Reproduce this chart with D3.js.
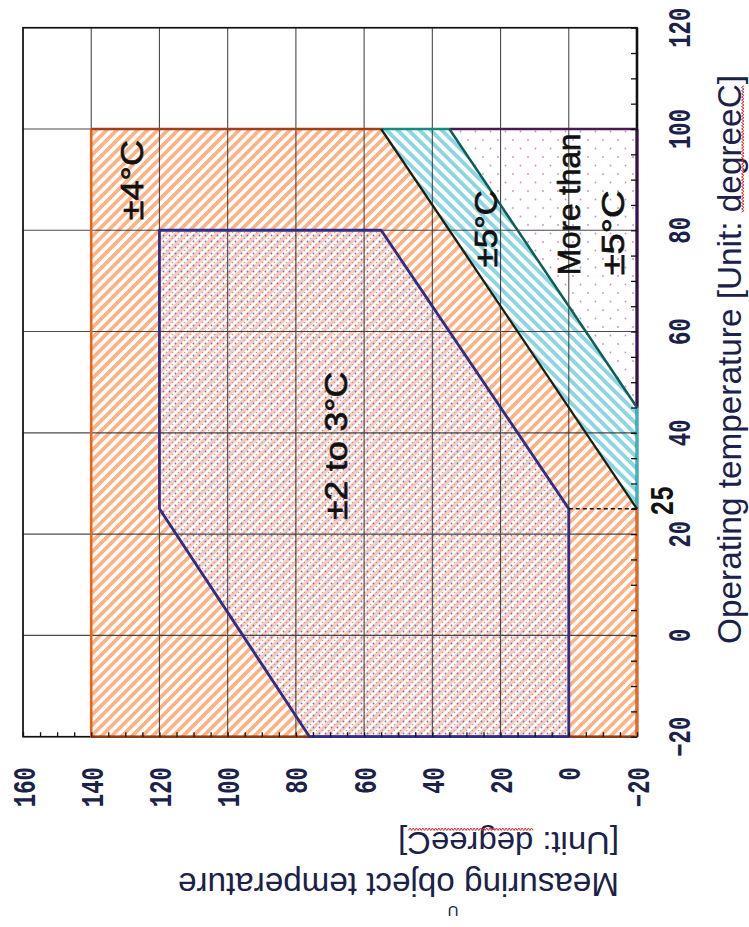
<!DOCTYPE html>
<html><head><meta charset="utf-8">
<script src="https://cdn.jsdelivr.net/npm/d3@7"></script>
<style>body{margin:0;background:#fff;} svg{display:block;}</style>
</head><body>
<svg id="c" width="749" height="927"></svg>
<script>
// ---- data (operating temperature = op, measuring object temperature = m) ----
const opTicks = [-20, 0, 20, 40, 60, 80, 100, 120];
const opExtraTick = [25];
const mTicks = [160, 140, 120, 100, 80, 60, 40, 20, 0, -20];
// zone vertices as [op, m]
const zone4 = [[-20, -20], [-20, 140], [100, 140], [100, -20]];          // ±4°C
const zone23 = [[-20, 0], [-20, 76], [25, 120], [80, 120], [80, 55], [25, 0]]; // ±2 to 3°C
const zone5 = [[25, -20], [100, 55], [100, 35], [45, -20]];              // ±5°C
const zoneMore = [[45, -20], [100, 35], [100, -20]];                     // More than ±5°C
const zoneLabelText = ["±4°C", "±2 to 3°C", "±5°C", "More than", "±5°C"];
const zoneLabelOp = [82, 22.8, 72.7, 71.1, 71.1];
const zoneLabelM = [124.8, 65, 21, -3.3, -16.2];
const opTitle = "Operating temperature [Unit: degreeC]";
const mTitle = "Measuring object temperature";
const mUnit = "[Unit: degreeC]";

const svg = d3.select("#c");
const xM = d3.scaleLinear().domain([160, -20]).range([23, 637]);
const yOp = d3.scaleLinear().domain([-20, 120]).range([736.7, 27.7]);
const line = d3.line().x(d => xM(d[1])).y(d => yOp(d[0]));

svg.append("rect").attr("width", 749).attr("height", 927).attr("fill", "#fff");

// ---- patterns ----
const defs = svg.append("defs");
function stripes(id, size, w, color, angle) {
  const p = defs.append("pattern").attr("id", id).attr("patternUnits", "userSpaceOnUse")
    .attr("width", size).attr("height", size).attr("patternTransform", `rotate(${angle})`);
  p.append("rect").attr("width", size).attr("height", size).attr("fill", "#fff");
  p.append("rect").attr("width", w).attr("height", size).attr("fill", color);
}
stripes("h4", 7.2, 3.7, "#fbb284", 45);
stripes("h23", 7.2, 3.7, "#f8cdb8", 45);
stripes("h5", 7.8, 3.9, "#8cd5e2", -45);
{
  const p = defs.append("pattern").attr("id", "d23").attr("patternUnits", "userSpaceOnUse")
    .attr("width", 6).attr("height", 6);
  p.append("circle").attr("cx", 1.5).attr("cy", 1.5).attr("r", 0.9).attr("fill", "#6c6cd2");
  p.append("circle").attr("cx", 4.5).attr("cy", 4.5).attr("r", 0.8).attr("fill", "#d98a8a");
}
{
  const p = defs.append("pattern").attr("id", "dm").attr("patternUnits", "userSpaceOnUse")
    .attr("width", 15).attr("height", 17);
  p.append("rect").attr("width", 15).attr("height", 17).attr("fill", "#fff");
  p.append("circle").attr("cx", 3).attr("cy", 4).attr("r", 0.9).attr("fill", "#c98ccd");
  p.append("circle").attr("cx", 10.5).attr("cy", 12.5).attr("r", 0.9).attr("fill", "#c98ccd");
}

// ---- zone fills ----
const poly = pts => line(pts) + "Z";
svg.append("path").attr("d", poly(zone4)).attr("fill", "url(#h4)");
svg.append("path").attr("d", poly(zone23)).attr("fill", "url(#h23)");
svg.append("path").attr("d", poly(zone23)).attr("fill", "url(#d23)");
svg.append("path").attr("d", poly(zone5)).attr("fill", "url(#h5)");
svg.append("path").attr("d", poly(zoneMore)).attr("fill", "url(#dm)");

// ---- grid ----
const grid = svg.append("g").attr("stroke", "#2c2c2c").attr("stroke-width", 1.1).attr("opacity", 0.85);
grid.selectAll("line.v").data(mTicks).join("line").attr("class", "v")
  .attr("x1", d => xM(d)).attr("x2", d => xM(d)).attr("y1", yOp(120)).attr("y2", yOp(-20));
grid.selectAll("line.h").data(opTicks).join("line").attr("class", "h")
  .attr("y1", d => yOp(d)).attr("y2", d => yOp(d)).attr("x1", xM(160)).attr("x2", xM(-20));

// ---- frame ----
svg.append("rect").attr("x", xM(160)).attr("y", yOp(120))
  .attr("width", xM(-20) - xM(160)).attr("height", yOp(-20) - yOp(120))
  .attr("fill", "none").attr("stroke", "#111").attr("stroke-width", 1.6);
svg.append("line").attr("x1", xM(-20)).attr("x2", xM(-20)).attr("y1", yOp(120)).attr("y2", yOp(-20))
  .attr("stroke", "#111").attr("stroke-width", 2.6);

// ---- zone borders ----
function seg(a, b, color, w, dash) {
  svg.append("path").attr("d", line([a, b])).attr("fill", "none")
    .attr("stroke", color).attr("stroke-width", w).attr("stroke-dasharray", dash || null);
}
seg(zone4[0], zone4[1], "#8f3a12", 2.6);
seg(zone4[1], zone4[2], "#ec6418", 2.6);
seg(zone4[2], zone5[1], "#a3401a", 2.6);
seg(zone5[1], zone5[2], "#178a80", 2.6);
seg(zone5[2], zoneMore[2], "#4b1858", 2.6);
seg(zoneMore[2], zoneMore[0], "#3b0f4e", 3);
seg(zone5[3], zone5[0], "#2fb9c2", 2.6);
seg(zone5[0], zone4[0], "#e86a1c", 2.6);
svg.append("path").attr("d", poly(zone23)).attr("fill", "none")
  .attr("stroke", "#312c88").attr("stroke-width", 2.8).attr("stroke-linejoin", "round");
seg(zone5[0], zone5[1], "#1c1f14", 2.3);
seg(zone5[3], zone5[2], "#0c5e58", 2.5);
seg(zone23[5], zone5[0], "#111", 1.4, "4,3");

// ---- minor ticks ----
svg.append("g").attr("transform", `translate(${xM(-20)},0)`)
  .call(d3.axisLeft(yOp).tickValues(d3.range(-20, 121, 5)).tickSize(6).tickFormat(""))
  .call(g => g.select(".domain").remove())
  .call(g => g.selectAll("line").attr("stroke", "#111").attr("stroke-width", 1.3));
svg.append("g").attr("transform", `translate(0,${yOp(-20)})`)
  .call(d3.axisTop(xM).tickValues(d3.range(-20, 161, 5)).tickSize(4.5).tickFormat(""))
  .call(g => g.select(".domain").remove())
  .call(g => g.selectAll("line").attr("stroke", "#111").attr("stroke-width", 1.3));

// ---- tick labels ----
const tickFont = "'Liberation Mono','DejaVu Sans Mono',monospace";
const lbl = d3.format("d");
const fmt = v => (v < 0 ? "\u2212" + Math.abs(v) : lbl(v));
svg.append("g").selectAll("g").data(opTicks).join("g")
  .attr("transform", d => `translate(690,${yOp(d)}) rotate(-90) scale(0.72,1)`)
  .append("text").attr("text-anchor", "middle").attr("font-family", tickFont)
  .attr("font-size", 31).attr("font-weight", "bold").attr("fill", "#1b2148").text(fmt);
svg.append("g").selectAll("g").data(opExtraTick).join("g")
  .attr("transform", d => `translate(673,${yOp(d) - 8}) rotate(-90) scale(0.72,1)`)
  .append("text").attr("text-anchor", "middle").attr("font-family", tickFont)
  .attr("font-size", 34).attr("font-weight", "bold").attr("fill", "#111").text(fmt);
svg.append("g").selectAll("g").data(mTicks).join("g")
  .attr("transform", d => `translate(${xM(d) + 11.5},767) rotate(-90) scale(0.72,1)`)
  .append("text").attr("text-anchor", "end").attr("font-family", tickFont)
  .attr("font-size", 31).attr("font-weight", "bold").attr("fill", "#1b2148").text(fmt);

// ---- zone labels ----
const labelLen = [80, 148, 77, 142, 85];
zoneLabelText.forEach((t, i) => {
  svg.append("g").attr("transform", `translate(${xM(zoneLabelM[i])},${yOp(zoneLabelOp[i])}) rotate(-90)`)
    .append("text").attr("font-family", "'Liberation Sans',Arial,sans-serif").attr("font-size", 31)
    .attr("fill", "#111").attr("stroke", "#111").attr("stroke-width", 0.7)
    .attr("textLength", labelLen[i]).attr("lengthAdjust", "spacingAndGlyphs").text(t);
});

// ---- titles ----
const titleFont = "'Liberation Sans',Arial,sans-serif";
function squiggle(g, textEl, i0, i1, y0) {
  const a = textEl.node().getStartPositionOfChar(i0).x;
  const b = textEl.node().getEndPositionOfChar(i1).x;
  const pts = [];
  let k = 0;
  for (let x = a; x <= b; x += 1.6, k++) pts.push([x, y0 + (k % 2 ? 2.5 : 0)]);
  g.append("path").attr("d", d3.line()(pts)).attr("fill", "none").attr("stroke", "#e8262a").attr("stroke-width", 1);
}
{
  const g = svg.append("g").attr("transform", "translate(741,644) rotate(-90)");
  const t = g.append("text").attr("font-family", titleFont).attr("font-size", 33).attr("fill", "#1b2148")
    .attr("textLength", 569).attr("lengthAdjust", "spacingAndGlyphs").text(opTitle);
  squiggle(g, t, opTitle.indexOf("degreeC"), opTitle.length - 2, 0.5);
}
{
  const g = svg.append("g").attr("transform", "translate(619,873) rotate(180)");
  g.append("text").attr("font-family", titleFont).attr("font-size", 33).attr("fill", "#1b2148")
    .attr("textLength", 441).attr("lengthAdjust", "spacingAndGlyphs").text(mTitle);
}
{
  const g = svg.append("g").attr("transform", "translate(619,832) rotate(180)");
  const t = g.append("text").attr("font-family", titleFont).attr("font-size", 31).attr("fill", "#1b2148")
    .attr("textLength", 221).attr("lengthAdjust", "spacingAndGlyphs").text(mUnit);
  squiggle(g, t, mUnit.indexOf("degreeC"), mUnit.length - 2, 1.5);
}
svg.append("g").attr("transform", "translate(453,906) rotate(180)")
  .append("text").attr("text-anchor", "middle").attr("font-family", titleFont)
  .attr("font-size", 15).attr("fill", "#1b2148").text("U");
</script>
</body></html>
